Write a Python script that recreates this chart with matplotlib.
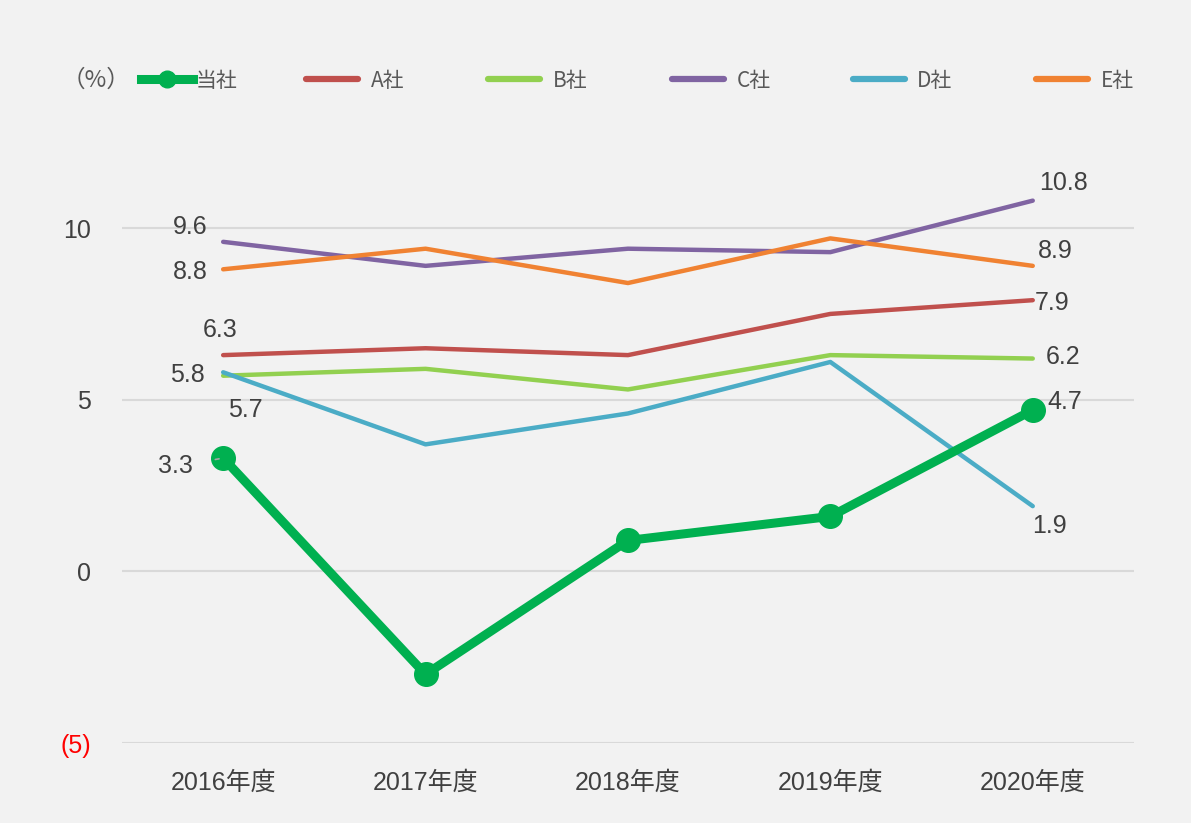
import matplotlib
matplotlib.use("Agg")
import matplotlib.pyplot as plt
from matplotlib.lines import Line2D

plt.rcParams['font.family'] = ['Liberation Sans', 'Noto Sans CJK JP', 'DejaVu Sans']

years = ["2016年度", "2017年度", "2018年度", "2019年度", "2020年度"]
series_names = ["当社", "A社", "B社", "C社", "D社", "E社"]
ours = [3.3, -3.0, 0.9, 1.6, 4.7]
comp_a = [6.3, 6.5, 6.3, 7.5, 7.9]
comp_b = [5.7, 5.9, 5.3, 6.3, 6.2]
comp_c = [9.6, 8.9, 9.4, 9.3, 10.8]
comp_d = [5.8, 3.7, 4.6, 6.1, 1.9]
comp_e = [8.8, 9.4, 8.4, 9.7, 8.9]
yticks = [-5, 0, 5, 10]
ytick_labels = ["(5)", "0", "5", "10"]

colors = ["#00b050", "#c0504d", "#92d050", "#8064a2", "#4bacc6", "#f08232"]
bg = "#f2f2f2"
txt = "#404040"

fig = plt.figure(figsize=(11.91, 8.23), dpi=100, facecolor=bg)
ax = fig.add_axes([0.1024, 0.0972, 0.8497, 0.6882], facecolor=bg)
x = list(range(len(years)))

comps = [comp_a, comp_b, comp_c, comp_d, comp_e]
for i, s in enumerate(comps):
    ax.plot(x, s, color=colors[i + 1], lw=3.2, solid_capstyle='round', zorder=3)
ax.plot(x, ours, color=colors[0], lw=6.5, marker='o', ms=17, zorder=5,
        solid_capstyle='round')

ax.set_xlim(-0.5, 4.5)
ax.set_ylim(-5, 11.5)
ax.set_yticks(yticks)
ax.set_yticklabels(ytick_labels)
ax.set_xticks(x)
ax.set_xticklabels(years)
ax.grid(axis='y', color='#d9d9d9', lw=1.5, zorder=0)
for sp in ax.spines.values():
    sp.set_visible(False)
ax.tick_params(length=0, labelsize=18, colors=txt)
ax.tick_params(axis='x', pad=20)
ax.tick_params(axis='y', pad=22)
for lbl in ax.get_yticklabels():
    if lbl.get_text() == "(5)":
        lbl.set_color('red')

fs = 18
def lab(xi, val, dx, dy, ha='center'):
    ax.annotate(f"{val:.1f}", (xi, val), xytext=(dx, dy), textcoords='offset points',
                ha=ha, va='center', fontsize=fs, color=txt, zorder=6)

# 2016 labels
lab(0, comp_c[0], -24, 11)
lab(0, comp_e[0], -24, -2)
lab(0, comp_a[0], -2, 18)
lab(0, comp_d[0], -26, -2)
lab(0, comp_b[0], 16, -25)
ax.annotate(f"{ours[0]:.1f}", (0, ours[0]), xytext=(-34, -6), textcoords='offset points',
            ha='center', va='center', fontsize=fs, color=txt, zorder=6,
            arrowprops=dict(arrowstyle='-', color='#a6a6a6', lw=1.2,
                            shrinkA=14, shrinkB=3))
# 2020 labels
lab(4, comp_c[4], 22, 13)
lab(4, comp_e[4], 16, 11)
lab(4, comp_a[4], 14, -2)
lab(4, comp_b[4], 22, 1)
lab(4, ours[4], 23, 6)
lab(4, comp_d[4], 12, -14)

# legend: one entry per slot
handles = [Line2D([0], [0], color=colors[0], lw=6.5, marker='o', ms=12)]
handles += [Line2D([0], [0], color=c, lw=4.5, solid_capstyle='round') for c in colors[1:]]
slot_x = [0.118, 0.257, 0.410, 0.564, 0.716, 0.870]
pads = [0.15, 0.6, 0.6, 0.6, 0.6, 0.6]
for h, name, sx, pd in zip(handles, series_names, slot_x, pads):
    leg = fig.legend([h], [name], loc='center left', bbox_to_anchor=(sx, 0.902),
                     frameon=False, handlelength=2.5, handletextpad=pd,
                     borderpad=0, borderaxespad=0,
                     prop={'family': ['Noto Sans CJK JP'], 'size': 15})
    for t in leg.get_texts():
        t.set_color('#595959')
fig.text(0.052, 0.902, "（%）", ha='left', va='center', fontsize=17, color='#595959',
         family=['Noto Sans CJK JP'])

fig.savefig("out.png", dpi=100, facecolor=bg)
